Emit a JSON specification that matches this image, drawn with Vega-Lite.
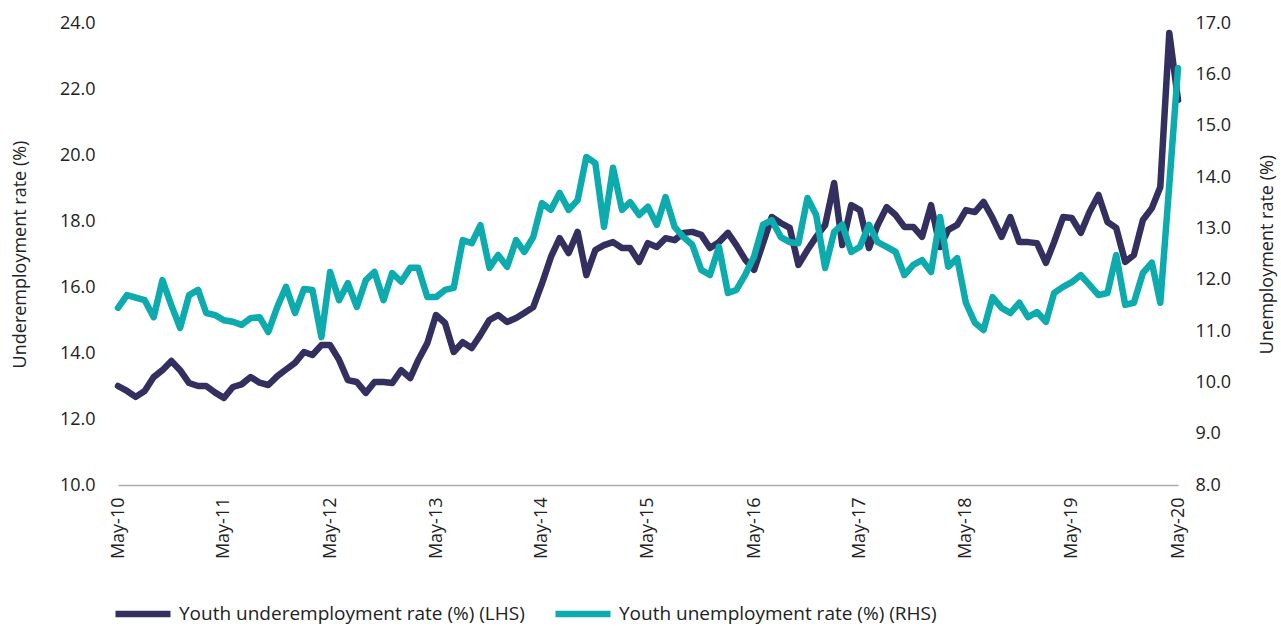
{
  "$schema": "https://vega.github.io/schema/vega-lite/v6.json",
  "width": 1060,
  "height": 462,
  "autosize": {"type": "none"},
  "padding": {"left": 118, "top": 23, "right": 103, "bottom": 141},
  "background": "white",
  "config": {
    "view": {"stroke": null},
    "font": "Open Sans",
    "axis": {"labelFont": "Open Sans", "titleFont": "Open Sans", "labelFontSize": 18, "titleFontSize": 18, "labelColor": "#222222", "titleColor": "#222222", "titleFontWeight": "normal", "grid": false, "ticks": false, "tickSize": 0},
    "legend": {"labelFont": "Open Sans", "labelFontSize": 19, "labelColor": "#222222", "labelLimit": 0}
  },
  "data": {
    "format": {"parse": {"d": "date:'%Y-%m'"}},
    "values": [
      {"d": "2010-05", "u": 13.0, "r": 11.45},
      {"d": "2010-06", "u": 12.85, "r": 11.7},
      {"d": "2010-07", "u": 12.67, "r": 11.65},
      {"d": "2010-08", "u": 12.85, "r": 11.6},
      {"d": "2010-09", "u": 13.27, "r": 11.27},
      {"d": "2010-10", "u": 13.48, "r": 11.99},
      {"d": "2010-11", "u": 13.76, "r": 11.5},
      {"d": "2010-12", "u": 13.48, "r": 11.06},
      {"d": "2011-01", "u": 13.09, "r": 11.7},
      {"d": "2011-02", "u": 13.0, "r": 11.8},
      {"d": "2011-03", "u": 13.0, "r": 11.35},
      {"d": "2011-04", "u": 12.8, "r": 11.31},
      {"d": "2011-05", "u": 12.64, "r": 11.21},
      {"d": "2011-06", "u": 12.97, "r": 11.18},
      {"d": "2011-07", "u": 13.05, "r": 11.12},
      {"d": "2011-08", "u": 13.27, "r": 11.25},
      {"d": "2011-09", "u": 13.1, "r": 11.27},
      {"d": "2011-10", "u": 13.03, "r": 10.98},
      {"d": "2011-11", "u": 13.3, "r": 11.47},
      {"d": "2011-12", "u": 13.5, "r": 11.86},
      {"d": "2012-01", "u": 13.7, "r": 11.35},
      {"d": "2012-02", "u": 14.03, "r": 11.82},
      {"d": "2012-03", "u": 13.94, "r": 11.8},
      {"d": "2012-04", "u": 14.24, "r": 10.88},
      {"d": "2012-05", "u": 14.24, "r": 12.15},
      {"d": "2012-06", "u": 13.79, "r": 11.6},
      {"d": "2012-07", "u": 13.18, "r": 11.93},
      {"d": "2012-08", "u": 13.12, "r": 11.47},
      {"d": "2012-09", "u": 12.79, "r": 11.99},
      {"d": "2012-10", "u": 13.12, "r": 12.15},
      {"d": "2012-11", "u": 13.12, "r": 11.6},
      {"d": "2012-12", "u": 13.09, "r": 12.13},
      {"d": "2013-01", "u": 13.48, "r": 11.96},
      {"d": "2013-02", "u": 13.24, "r": 12.23},
      {"d": "2013-03", "u": 13.79, "r": 12.23},
      {"d": "2013-04", "u": 14.3, "r": 11.66},
      {"d": "2013-05", "u": 15.15, "r": 11.66},
      {"d": "2013-06", "u": 14.91, "r": 11.8},
      {"d": "2013-07", "u": 14.03, "r": 11.84},
      {"d": "2013-08", "u": 14.33, "r": 12.77},
      {"d": "2013-09", "u": 14.15, "r": 12.71},
      {"d": "2013-10", "u": 14.55, "r": 13.06},
      {"d": "2013-11", "u": 15.0, "r": 12.23},
      {"d": "2013-12", "u": 15.15, "r": 12.48},
      {"d": "2014-01", "u": 14.94, "r": 12.25},
      {"d": "2014-02", "u": 15.06, "r": 12.77},
      {"d": "2014-03", "u": 15.21, "r": 12.54},
      {"d": "2014-04", "u": 15.39, "r": 12.83},
      {"d": "2014-05", "u": 16.1, "r": 13.49},
      {"d": "2014-06", "u": 16.91, "r": 13.36},
      {"d": "2014-07", "u": 17.48, "r": 13.69},
      {"d": "2014-08", "u": 17.03, "r": 13.36},
      {"d": "2014-09", "u": 17.67, "r": 13.55},
      {"d": "2014-10", "u": 16.36, "r": 14.39},
      {"d": "2014-11", "u": 17.12, "r": 14.27},
      {"d": "2014-12", "u": 17.27, "r": 13.03},
      {"d": "2015-01", "u": 17.36, "r": 14.18},
      {"d": "2015-02", "u": 17.18, "r": 13.36},
      {"d": "2015-03", "u": 17.18, "r": 13.51},
      {"d": "2015-04", "u": 16.76, "r": 13.26},
      {"d": "2015-05", "u": 17.33, "r": 13.42},
      {"d": "2015-06", "u": 17.21, "r": 13.07},
      {"d": "2015-07", "u": 17.48, "r": 13.61},
      {"d": "2015-08", "u": 17.42, "r": 13.03},
      {"d": "2015-09", "u": 17.64, "r": 12.83},
      {"d": "2015-10", "u": 17.67, "r": 12.68},
      {"d": "2015-11", "u": 17.58, "r": 12.19},
      {"d": "2015-12", "u": 17.18, "r": 12.09},
      {"d": "2016-01", "u": 17.36, "r": 12.64},
      {"d": "2016-02", "u": 17.64, "r": 11.74},
      {"d": "2016-03", "u": 17.27, "r": 11.8},
      {"d": "2016-04", "u": 16.82, "r": 12.1},
      {"d": "2016-05", "u": 16.52, "r": 12.45},
      {"d": "2016-06", "u": 17.33, "r": 13.07},
      {"d": "2016-07", "u": 18.12, "r": 13.16},
      {"d": "2016-08", "u": 17.94, "r": 12.83},
      {"d": "2016-09", "u": 17.79, "r": 12.73},
      {"d": "2016-10", "u": 16.67, "r": 12.71},
      {"d": "2016-11", "u": 17.12, "r": 13.59},
      {"d": "2016-12", "u": 17.52, "r": 13.26},
      {"d": "2017-01", "u": 17.88, "r": 12.23},
      {"d": "2017-02", "u": 19.15, "r": 12.93},
      {"d": "2017-03", "u": 17.27, "r": 13.07},
      {"d": "2017-04", "u": 18.48, "r": 12.54},
      {"d": "2017-05", "u": 18.33, "r": 12.64},
      {"d": "2017-06", "u": 17.18, "r": 13.07},
      {"d": "2017-07", "u": 17.88, "r": 12.73},
      {"d": "2017-08", "u": 18.42, "r": 12.64},
      {"d": "2017-09", "u": 18.18, "r": 12.54},
      {"d": "2017-10", "u": 17.82, "r": 12.09},
      {"d": "2017-11", "u": 17.82, "r": 12.29},
      {"d": "2017-12", "u": 17.52, "r": 12.38},
      {"d": "2018-01", "u": 18.48, "r": 12.15},
      {"d": "2018-02", "u": 17.21, "r": 13.22},
      {"d": "2018-03", "u": 17.73, "r": 12.25},
      {"d": "2018-04", "u": 17.88, "r": 12.42},
      {"d": "2018-05", "u": 18.33, "r": 11.55},
      {"d": "2018-06", "u": 18.27, "r": 11.16},
      {"d": "2018-07", "u": 18.58, "r": 11.02},
      {"d": "2018-08", "u": 18.09, "r": 11.66},
      {"d": "2018-09", "u": 17.52, "r": 11.45},
      {"d": "2018-10", "u": 18.12, "r": 11.35},
      {"d": "2018-11", "u": 17.36, "r": 11.55},
      {"d": "2018-12", "u": 17.36, "r": 11.27},
      {"d": "2019-01", "u": 17.33, "r": 11.37},
      {"d": "2019-02", "u": 16.73, "r": 11.18},
      {"d": "2019-03", "u": 17.36, "r": 11.74},
      {"d": "2019-04", "u": 18.12, "r": 11.86},
      {"d": "2019-05", "u": 18.09, "r": 11.95},
      {"d": "2019-06", "u": 17.64, "r": 12.09},
      {"d": "2019-07", "u": 18.27, "r": 11.9},
      {"d": "2019-08", "u": 18.79, "r": 11.7},
      {"d": "2019-09", "u": 17.97, "r": 11.74},
      {"d": "2019-10", "u": 17.79, "r": 12.48},
      {"d": "2019-11", "u": 16.76, "r": 11.51},
      {"d": "2019-12", "u": 16.97, "r": 11.55},
      {"d": "2020-01", "u": 18.03, "r": 12.13},
      {"d": "2020-02", "u": 18.39, "r": 12.33},
      {"d": "2020-03", "u": 19.03, "r": 11.55},
      {"d": "2020-04", "u": 23.7, "r": 13.85},
      {"d": "2020-05", "u": 21.67, "r": 16.12}
    ]
  },
  "encoding": {
    "x": {
      "field": "d",
      "type": "temporal",
      "scale": {"domain": [{"year": 2010, "month": 5, "date": 1}, {"year": 2020, "month": 5, "date": 1}]},
      "axis": {
        "title": null,
        "format": "%b-%y",
        "labelAngle": -90,
        "labelPadding": 12,
        "domainColor": "#AAAAAA",
        "domainWidth": 1.5,
        "values": [
          {"year": 2010, "month": 5, "date": 1}, {"year": 2011, "month": 5, "date": 1},
          {"year": 2012, "month": 5, "date": 1}, {"year": 2013, "month": 5, "date": 1},
          {"year": 2014, "month": 5, "date": 1}, {"year": 2015, "month": 5, "date": 1},
          {"year": 2016, "month": 5, "date": 1}, {"year": 2017, "month": 5, "date": 1},
          {"year": 2018, "month": 5, "date": 1}, {"year": 2019, "month": 5, "date": 1},
          {"year": 2020, "month": 5, "date": 1}
        ],
        "labelFlush": false,
        "labelOverlap": false
      }
    },
    "color": {
      "scale": {
        "domain": ["Youth underemployment rate (%) (LHS)", "Youth unemployment rate (%) (RHS)"],
        "range": ["#332F5E", "#0DAAAE"]
      },
      "legend": {
        "title": null,
        "orient": "none",
        "direction": "horizontal",
        "legendX": -6,
        "legendY": 560,
        "symbolType": "stroke",
        "symbolStrokeWidth": 6.5,
        "symbolSize": 3025,
        "labelOffset": 5,
        "labelLimit": 0,
        "columnPadding": 17,
        "padding": 0
      }
    }
  },
  "layer": [
    {
      "mark": {"type": "line", "strokeWidth": 6.5, "strokeJoin": "round", "strokeCap": "round"},
      "encoding": {
        "y": {
          "field": "u",
          "type": "quantitative",
          "scale": {"domain": [10, 24], "nice": false, "zero": false},
          "axis": {"title": "Underemployment rate (%)", "orient": "left", "values": [10, 12, 14, 16, 18, 20, 22, 24], "format": ".1f", "domain": false, "labelPadding": 23, "titlePadding": 30}
        },
        "color": {"datum": "Youth underemployment rate (%) (LHS)"}
      }
    },
    {
      "mark": {"type": "line", "strokeWidth": 6.5, "strokeJoin": "round", "strokeCap": "round"},
      "encoding": {
        "y": {
          "field": "r",
          "type": "quantitative",
          "scale": {"domain": [8, 17], "nice": false, "zero": false},
          "axis": {"title": "Unemployment rate (%)", "orient": "right", "titleAngle": 270, "values": [8, 9, 10, 11, 12, 13, 14, 15, 16, 17], "format": ".1f", "domain": false, "labelPadding": 17, "titlePadding": 46}
        },
        "color": {"datum": "Youth unemployment rate (%) (RHS)"}
      }
    }
  ],
  "resolve": {"scale": {"y": "independent"}}
}
